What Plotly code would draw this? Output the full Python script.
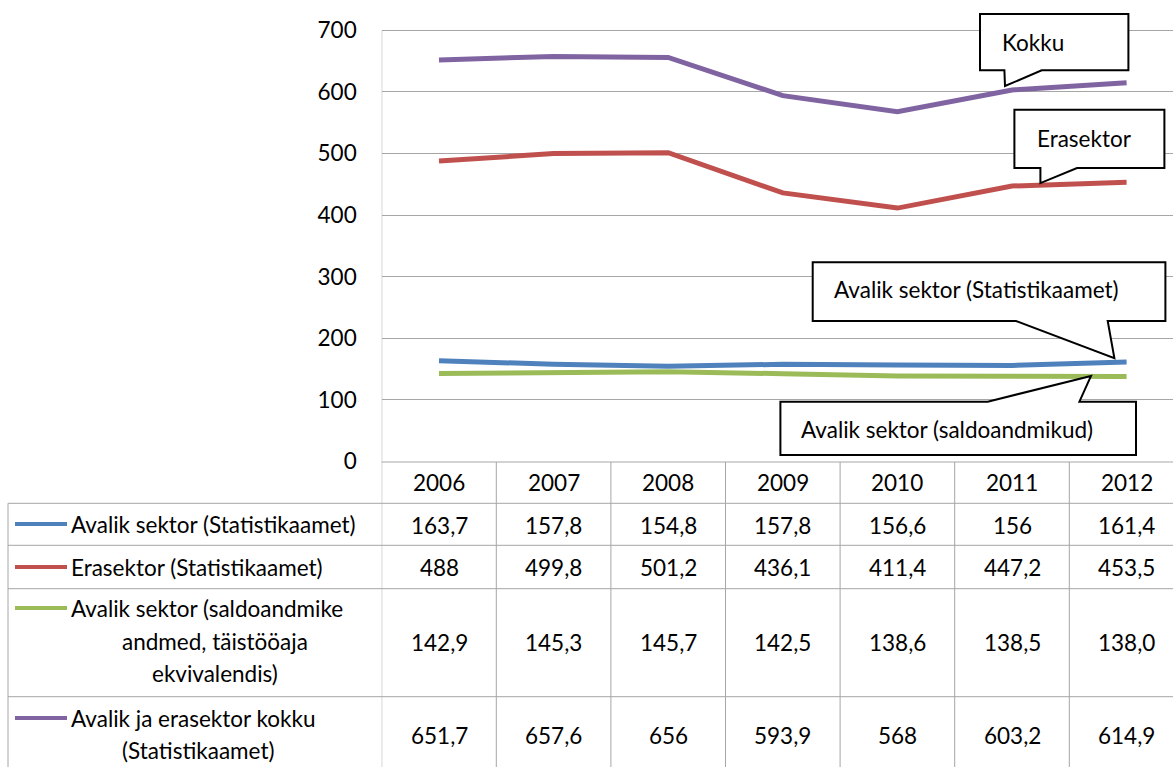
import plotly.graph_objects as go

W, H = 1173, 767

years = ["2006", "2007", "2008", "2009", "2010", "2011", "2012"]
avalik_stat = [163.7, 157.8, 154.8, 157.8, 156.6, 156.0, 161.4]
erasektor = [488.0, 499.8, 501.2, 436.1, 411.4, 447.2, 453.5]
avalik_saldo = [142.9, 145.3, 145.7, 142.5, 138.6, 138.5, 138.0]
kokku = [651.7, 657.6, 656.0, 593.9, 568.0, 603.2, 614.9]

avalik_stat_txt = ["163,7", "157,8", "154,8", "157,8", "156,6", "156", "161,4"]
erasektor_txt = ["488", "499,8", "501,2", "436,1", "411,4", "447,2", "453,5"]
avalik_saldo_txt = ["142,9", "145,3", "145,7", "142,5", "138,6", "138,5", "138,0"]
kokku_txt = ["651,7", "657,6", "656", "593,9", "568", "603,2", "614,9"]

series_names = [
    ["Avalik sektor (Statistikaamet)"],
    ["Erasektor (Statistikaamet)"],
    ["Avalik sektor (saldoandmike", "andmed, täistööaja", "ekvivalendis)"],
    ["Avalik ja erasektor kokku", "(Statistikaamet)"],
]
colors = ["#4F81BD", "#C0504D", "#9BBB59", "#8064A2"]
y_ticks = [0, 100, 200, 300, 400, 500, 600, 700]

FONT = "Lato"
FS = 22.5
TXT = "#000000"
GRID = "#a6a6a6"

# layout geometry (pixels)
plot_left, plot_top, plot_bottom = 381.7, 30.3, 461.5
col_w = 114.6
px = lambda p: 1 - p / H

xi = list(range(len(years)))  # category positions on the axis

fig = go.Figure()
for vals, c in zip([avalik_stat, erasektor, avalik_saldo, kokku], colors):
    fig.add_trace(go.Scatter(x=years, y=vals, mode="lines",
                             line=dict(color=c, width=5), hoverinfo="skip"))

x_right = -0.5 + (W - plot_left) / col_w
y_top = 700 * plot_bottom / (plot_bottom - plot_top)  # extend area to top edge (no clipping)

fig.update_layout(
    template="none",
    width=W, height=H, margin=dict(l=0, r=0, t=0, b=0, pad=0, autoexpand=False),
    paper_bgcolor="white", plot_bgcolor="white", showlegend=False,
    font=dict(family=FONT, size=FS, color=TXT),
    xaxis=dict(domain=[plot_left / W, 1], range=[-0.5, x_right], type="category",
               showgrid=False, showticklabels=False, zeroline=False, showline=False,
               automargin=False, fixedrange=True),
    yaxis=dict(domain=[px(plot_bottom), 1], range=[0, y_top],
               tickvals=y_ticks, ticktext=[str(v) for v in y_ticks],
               showgrid=True, gridcolor=GRID, gridwidth=1, zeroline=False,
               showline=False, ticks="", ticklabelstandoff=24, automargin=False,
               fixedrange=True, tickfont=dict(family=FONT, size=FS, color=TXT)),
)

shapes = []
annos = []

# table geometry
row_bounds = [462, 503.3, 545.3, 588.7, 696.7]
shapes.append(dict(type="line", xref="x", yref="paper", x0=-0.5, x1=-0.5,
                   y0=0, y1=px(plot_top), line=dict(color=GRID, width=1)))
for i in xi:
    shapes.append(dict(type="line", xref="x", yref="paper", x0=i + 0.5, x1=i + 0.5,
                       y0=0, y1=px(row_bounds[0]), line=dict(color=GRID, width=1)))
shapes.append(dict(type="line", xref="paper", yref="paper", x0=8 / W, x1=8 / W,
                   y0=0, y1=px(row_bounds[1]), line=dict(color=GRID, width=1)))
for k, rb in enumerate(row_bounds):
    x0 = plot_left / W if k == 0 else 8 / W
    shapes.append(dict(type="line", xref="paper", yref="paper", x0=x0, x1=1,
                       y0=px(rb), y1=px(rb), line=dict(color=GRID, width=1)))

# header years
for i, yr in zip(xi, years):
    annos.append(dict(x=i, y=px(482.7), xref="x", yref="paper", text=yr,
                      showarrow=False, xanchor="center", yanchor="middle"))

row_centers = [525, 567, 642, 735]
for vals_txt, yc in zip([avalik_stat_txt, erasektor_txt, avalik_saldo_txt, kokku_txt], row_centers):
    for i, t in zip(xi, vals_txt):
        annos.append(dict(x=i, y=px(yc), xref="x", yref="paper", text=t,
                          showarrow=False, xanchor="center", yanchor="middle"))

# row labels with legend keys
label_lines_y = [[524], [567], [608, 641, 673], [718, 750]]
label_centers = [None, None, 215, 198]
for names, ys, c, cx in zip(series_names, label_lines_y, colors, label_centers):
    shapes.append(dict(type="line", xref="paper", yref="paper", x0=15 / W, x1=67 / W,
                       y0=px(ys[0]), y1=px(ys[0]), line=dict(color=c, width=4)))
    annos.append(dict(x=69 / W, y=px(ys[0]), xref="paper", yref="paper", text=names[0],
                      showarrow=False, xanchor="left", yanchor="middle"))
    for nm, yy in zip(names[1:], ys[1:]):
        annos.append(dict(x=cx / W, y=px(yy), xref="paper", yref="paper", text=nm,
                          showarrow=False, xanchor="center", yanchor="middle"))

# callouts: anchored to data points, geometry in pixel offsets (y up)
callouts = [
    ("Kokku", xi[5], kokku[5], (-32, 116.4, 75.9, 19.6), (29.7, -7.6, -7, 3.9), (-12.3, 47.9)),
    ("Erasektor", xi[5], erasektor[5], (2.4, 152.4, 76.2, 17.9), (65, 28.4, 28.4, 2.9), (22.7, 47.2)),
    ("Avalik sektor (Statistikaamet)", xi[6], avalik_stat[6], (-313.9, 38.8, 99.8, 41.1),
     (-18.9, -110.6, -12.2, 3.8), (-294.9, 72.1)),
]
for text, ax, ay, (l, r, t, b), (b1, b2, tx, ty), (dx, dy) in callouts:
    path = (f"M {l},{t} L {r},{t} L {r},{b} L {b1},{b} L {tx},{ty} "
            f"L {b2},{b} L {l},{b} Z")
    shapes.append(dict(type="path", xref="x", yref="y", xsizemode="pixel", ysizemode="pixel",
                       xanchor=ax, yanchor=ay, path=path, fillcolor="white",
                       line=dict(color="black", width=2), layer="above"))
    annos.append(dict(x=ax, y=ay, xref="x", yref="y", text=text, showarrow=False,
                      xanchor="left", yanchor="middle", xshift=dx, yshift=dy))

ax, ay = xi[6], avalik_saldo[6]
l, r, t, b = -346.2, 9.4, -25.2, -78.5
b1, b2, tx, ty = -138.9, -47.2, -35.6, 0.5
path = (f"M {l},{t} L {b1},{t} L {tx},{ty} L {b2},{t} L {r},{t} L {r},{b} L {l},{b} Z")
shapes.append(dict(type="path", xref="x", yref="y", xsizemode="pixel", ysizemode="pixel",
                   xanchor=ax, yanchor=ay, path=path, fillcolor="white",
                   line=dict(color="black", width=2), layer="above"))
annos.append(dict(x=ax, y=ay, xref="x", yref="y", text="Avalik sektor (saldoandmikud)",
                  showarrow=False, xanchor="left", yanchor="middle", xshift=-327.2, yshift=-53.5))

fig.update_layout(shapes=shapes, annotations=annos)
fig.write_html("out.html", config={"displayModeBar": False},
               post_script="document.body.style.margin='0';")
